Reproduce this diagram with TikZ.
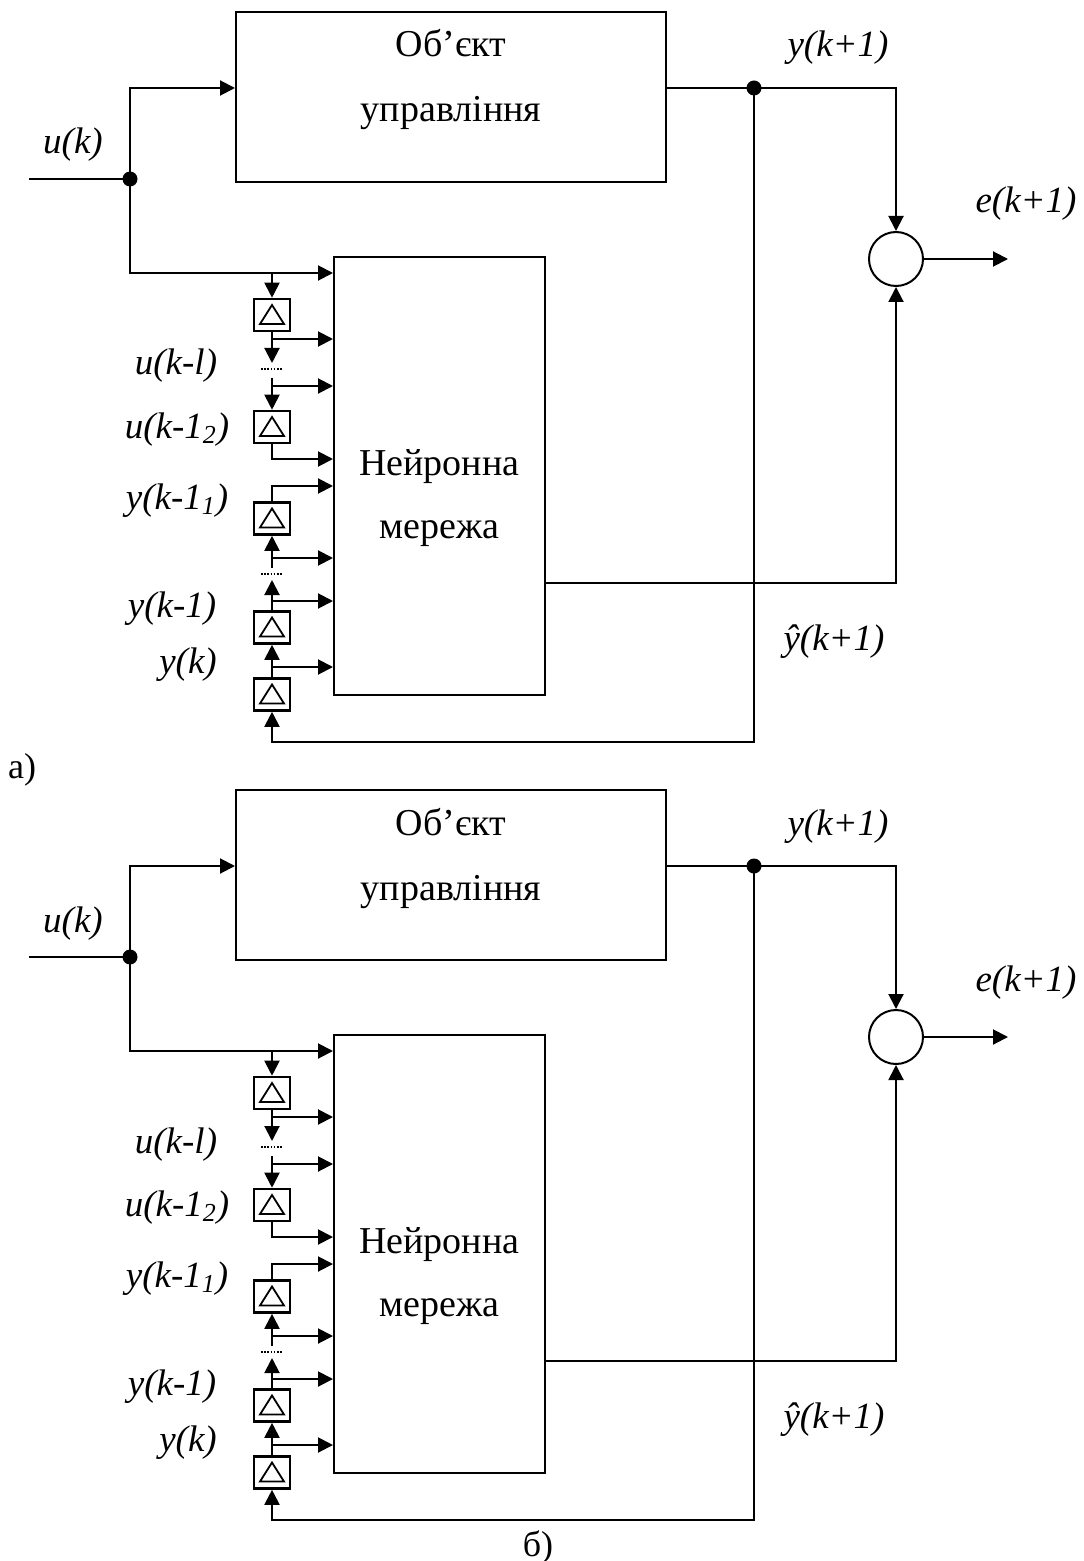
\documentclass[tikz,border=0pt]{standalone}
\usepackage{fontspec}
\setmainfont{Liberation Serif}
\usetikzlibrary{arrows.meta}
\tikzset{
  wire/.style={line width=1pt},
  signal/.style={-{Triangle[length=7.5pt,width=7.5pt]}, line width=1pt},
  dotline/.style={line width=0.6pt, dash pattern=on 0.8pt off 0.8pt},
  block/.style={draw, line width=1pt, inner sep=0pt},
  delaybox/.style={draw, line width=1.3pt, minimum width=18pt, minimum height=16pt, inner sep=0pt,
    path picture={\draw[line width=0.9pt, line join=miter]
      ([xshift=-6pt,yshift=-4.5pt]path picture bounding box.center) --
      ([xshift=6pt,yshift=-4.5pt]path picture bounding box.center) --
      ([yshift=5pt]path picture bounding box.center) -- cycle;}},
  sumnode/.style={draw, circle, line width=1pt, minimum size=27pt, inner sep=0pt},
  junction/.style={circle, fill, inner sep=0pt, minimum size=7.5pt},
  block text/.style={font=\fontsize{19}{22}\selectfont, anchor=base, inner sep=0pt},
  signal label/.style={font=\itshape\fontsize{18.5}{21}\selectfont, anchor=base, inner sep=0pt},
  panel label/.style={font=\fontsize{18}{21}\selectfont, anchor=base, inner sep=0pt},
}

\begin{document}
\begin{tikzpicture}[x=0.5pt, y=-0.5pt]
  \useasboundingbox (0,0) rectangle (1083,1561);

  % Both schemes share the same layout; only the caption moves.
  \foreach \pn/\dy/\lx/\ltext in {a/0/22/а), b/778/538/б)} {
  \begin{scope}[shift={(0,\dy)}]
    % Plant and neural network.
    \node[block, minimum width=215pt, minimum height=85pt] (obj\pn) at (451,97) {};
    \node[block text] (objA\pn) at (451,57) {Об’єкт};
    \node[block text] (objB\pn) at (451,122) {управління};
    \node[block, minimum width=105.25pt, minimum height=219pt] (nn\pn) at (439.25,476) {};
    \node[block text] (nnA\pn) at (439.25,475) {Нейронна};
    \node[block text] (nnB\pn) at (439.25,538) {мережа};
    \node[sumnode] (sum\pn) at (896,259) {};
    \node[junction] (uj\pn) at (130,179) {};
    \node[junction] (yj\pn) at (754,88) {};

    % Tapped delay lines.
    \node[delaybox] (d1\pn) at (272,315) {};
    \node[delaybox] (d2\pn) at (272,427) {};
    \node[delaybox] (d3\pn) at (272,518.5) {};
    \node[delaybox] (d4\pn) at (272,627.5) {};
    \node[delaybox] (d5\pn) at (272,694.5) {};

    \coordinate (uin\pn) at (29,179);
    \coordinate (eout\pn) at (1008,259);
    \coordinate (fb\pn) at (754,742);
    \coordinate (dotsU\pn) at (272,369);
    \coordinate (dotsY\pn) at (272,574);
    \coordinate (t1\pn) at (272,273);
    \coordinate (t2\pn) at (272,339);
    \coordinate (t3\pn) at (272,386);
    \coordinate (t4\pn) at (272,459);
    \coordinate (t5\pn) at (272,486);
    \coordinate (t6\pn) at (272,558);
    \coordinate (t7\pn) at (272,601);
    \coordinate (t8\pn) at (272,667);

    % Input branches.
    \draw[wire] (uin\pn) -- (uj\pn.center);
    \draw[signal] (uj\pn.center) |- ([yshift=4.5pt]obj\pn.west);
    \draw[signal] (uj\pn.center) |- (t1\pn -| nn\pn.west);

    % Delayed inputs.
    \draw[signal] (t1\pn) -- (d1\pn.north);
    \draw[wire] (d1\pn.south) -- (t2\pn);
    \draw[signal] (t2\pn) -- (t2\pn -| nn\pn.west);
    \draw[signal] (t2\pn) -- ([yshift=3pt]dotsU\pn);
    \draw[dotline] ([xshift=-5.5pt]dotsU\pn) -- ([xshift=5.5pt]dotsU\pn);
    \draw[wire] ([yshift=-4.5pt]dotsU\pn) -- (t3\pn);
    \draw[signal] (t3\pn) -- (t3\pn -| nn\pn.west);
    \draw[signal] (t3\pn) -- (d2\pn.north);
    \draw[signal] (d2\pn.south) |- (t4\pn -| nn\pn.west);

    % Delayed outputs.
    \draw[signal] (d3\pn.north) |- (t5\pn -| nn\pn.west);
    \draw[signal] ([yshift=3pt]dotsY\pn) -- (d3\pn.south);
    \draw[signal] (t6\pn) -- (t6\pn -| nn\pn.west);
    \draw[dotline] ([xshift=-5.5pt]dotsY\pn) -- ([xshift=5.5pt]dotsY\pn);
    \draw[signal] (d4\pn.north) -- ([yshift=-3pt]dotsY\pn);
    \draw[signal] (t7\pn) -- (t7\pn -| nn\pn.west);
    \draw[signal] (d5\pn.north) -- (d4\pn.south);
    \draw[signal] (t8\pn) -- (t8\pn -| nn\pn.west);
    \draw[signal] (yj\pn.center) -- (fb\pn) -| (d5\pn.south);

    % Error formation.
    \draw[wire] ([yshift=4.5pt]obj\pn.east) -- (yj\pn.center);
    \draw[signal] (yj\pn.center) -| (sum\pn.north);
    \draw[signal] ([yshift=-53.5pt]nn\pn.east) -| (sum\pn.south);
    \draw[signal] (sum\pn.east) -- (eout\pn);

    % Signal names.
    \node[signal label] (lu\pn) at (73,154) {u(k)};
    \node[signal label] (ly\pn) at (838,57) {y(k+1)};
    \node[signal label] (le\pn) at (1026,213) {e(k+1)};
    \node[signal label] (lyh\pn) at (834,650) {ŷ(k+1)};
    \node[signal label] (lul\pn) at (176,375) {u(k-l)};
    \node[signal label] (lu2\pn) at (177,438) {u(k-1\textsubscript{2})};
    \node[signal label] (ly1\pn) at (177,509) {y(k-1\textsubscript{1})};
    \node[signal label] (lym\pn) at (172,617) {y(k-1)};
    \node[signal label] (lyk\pn) at (188,673) {y(k)};
    \node[panel label] (cap\pn) at (\lx,778) {\ltext};
  \end{scope}
  }
\end{tikzpicture}
\end{document}
